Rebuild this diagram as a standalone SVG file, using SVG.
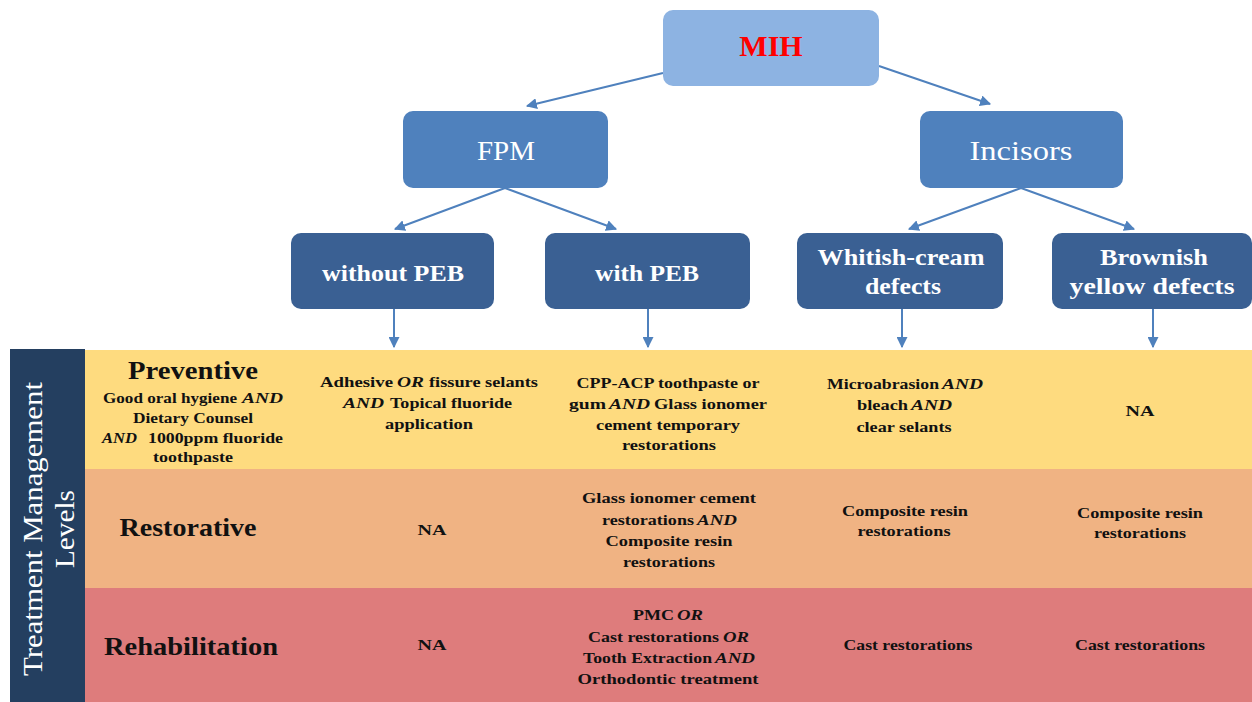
<svg xmlns="http://www.w3.org/2000/svg" width="1252" height="702" viewBox="0 0 1252 702">
<style>
.bx1{fill:#8DB3E2}
.bx2{fill:#4F81BD}
.bx3{fill:#3A6093}
.t1{font-family:"Liberation Serif",serif;font-weight:bold;font-size:30px;fill:#FF0000;text-anchor:middle}
.t2{font-family:"Liberation Serif",serif;font-size:27px;fill:#FFFFFF;text-anchor:middle}
.t3{font-family:"Liberation Serif",serif;font-weight:bold;font-size:23px;fill:#FFFFFF;text-anchor:middle}
.conn{stroke:#4F81BD;stroke-width:2;fill:none}
.hd{font-family:"Liberation Serif",serif;font-weight:bold;font-size:25px;fill:#111;text-anchor:middle}
.c{font-family:"Liberation Serif",serif;font-weight:bold;font-size:15.5px;fill:#111;text-anchor:middle}
.s{font-family:"Liberation Serif",serif;font-weight:bold;font-size:15.5px;fill:#111;text-anchor:start}
.i{font-style:italic}
.vt{font-family:"Liberation Serif",serif;font-size:28px;fill:#FFFFFF;text-anchor:middle}
</style>
<defs>
<marker id="ah" viewBox="0 0 10 10" refX="9" refY="5" markerWidth="5.5" markerHeight="5.5" orient="auto" markerUnits="strokeWidth">
<path d="M0,0 L10,5 L0,10 z" fill="#4F81BD"/>
</marker>
</defs>
<rect width="1252" height="702" fill="#FFFFFF"/>
<g id="connectors">
<line class="conn" x1="663" y1="73" x2="527" y2="106" marker-end="url(#ah)"/>
<line class="conn" x1="879" y1="66" x2="990" y2="104" marker-end="url(#ah)"/>
<line class="conn" x1="505" y1="188" x2="395" y2="229" marker-end="url(#ah)"/>
<line class="conn" x1="505" y1="188" x2="616" y2="229" marker-end="url(#ah)"/>
<line class="conn" x1="1021" y1="188" x2="909" y2="229" marker-end="url(#ah)"/>
<line class="conn" x1="1021" y1="188" x2="1134" y2="229" marker-end="url(#ah)"/>
<line class="conn" x1="394" y1="309" x2="394" y2="347" marker-end="url(#ah)"/>
<line class="conn" x1="648" y1="309" x2="648" y2="347" marker-end="url(#ah)"/>
<line class="conn" x1="902" y1="309" x2="902" y2="347" marker-end="url(#ah)"/>
<line class="conn" x1="1153" y1="309" x2="1153" y2="347" marker-end="url(#ah)"/>
</g>
<g id="mih">
<rect class="bx1" x="663" y="10" width="216" height="76" rx="10"/>
<text class="t1" x="771" y="56">MIH</text>
</g>
<g id="fpm">
<rect class="bx2" x="403" y="111" width="205" height="77" rx="10"/>
<text class="t2" x="506" y="160" textLength="58" lengthAdjust="spacingAndGlyphs">FPM</text>
</g>
<g id="incisors">
<rect class="bx2" x="920" y="111" width="203" height="77" rx="10"/>
<text class="t2" x="1021" y="160" textLength="103" lengthAdjust="spacingAndGlyphs">Incisors</text>
</g>
<g id="without-peb">
<rect class="bx3" x="291" y="233" width="203" height="76" rx="10"/>
<text class="t3" x="393" y="281" textLength="142" lengthAdjust="spacingAndGlyphs">without PEB</text>
</g>
<g id="with-peb">
<rect class="bx3" x="545" y="233" width="205" height="76" rx="10"/>
<text class="t3" x="647" y="281" textLength="104" lengthAdjust="spacingAndGlyphs">with PEB</text>
</g>
<g id="whitish">
<rect class="bx3" x="797" y="233" width="206" height="76" rx="10"/>
<text class="t3" x="901" y="265" textLength="167" lengthAdjust="spacingAndGlyphs">Whitish-cream</text>
<text class="t3" x="903" y="294" textLength="76" lengthAdjust="spacingAndGlyphs">defects</text>
</g>
<g id="brownish">
<rect class="bx3" x="1052" y="233" width="200" height="76" rx="10"/>
<text class="t3" x="1154" y="265" textLength="108" lengthAdjust="spacingAndGlyphs">Brownish</text>
<text class="t3" x="1152" y="294" textLength="165" lengthAdjust="spacingAndGlyphs">yellow defects</text>
</g>
<g id="table">
<rect x="85" y="350" width="1167" height="119" fill="#FEDB7F"/>
<rect x="85" y="469" width="1167" height="119" fill="#F0B383"/>
<rect x="85" y="588" width="1167" height="114" fill="#DE7C7C"/>
</g>
<g id="levels-label">
<rect x="10" y="349" width="75" height="353" fill="#243F60"/>
<text class="vt" transform="translate(42,529) rotate(-90)" textLength="294" lengthAdjust="spacingAndGlyphs">Treatment Management</text>
<text class="vt" transform="translate(74,529) rotate(-90)" textLength="78" lengthAdjust="spacingAndGlyphs">Levels</text>
</g>
<g id="preventive">
<text class="hd" x="193" y="379" textLength="130" lengthAdjust="spacingAndGlyphs">Preventive</text>
<text class="s" x="103" y="403" textLength="134" lengthAdjust="spacingAndGlyphs">Good oral hygiene</text>
<text class="s i" x="242" y="403" textLength="41" lengthAdjust="spacingAndGlyphs">AND</text>
<text class="c" x="193" y="423" textLength="120" lengthAdjust="spacingAndGlyphs">Dietary Counsel</text>
<text class="s i" x="102" y="443" textLength="35" lengthAdjust="spacingAndGlyphs">AND</text>
<text class="s" x="148" y="443" textLength="135" lengthAdjust="spacingAndGlyphs">1000ppm fluoride</text>
<text class="c" x="193" y="462" textLength="80" lengthAdjust="spacingAndGlyphs">toothpaste</text>
</g>
<g id="restorative">
<text class="hd" x="188" y="536" textLength="137" lengthAdjust="spacingAndGlyphs">Restorative</text>
</g>
<g id="rehabilitation">
<text class="hd" x="191" y="655" textLength="174" lengthAdjust="spacingAndGlyphs">Rehabilitation</text>
</g>
<g id="cell-prev-1">
<text class="s" x="320" y="387" textLength="73" lengthAdjust="spacingAndGlyphs">Adhesive</text>
<text class="s i" x="397" y="387" textLength="27" lengthAdjust="spacingAndGlyphs">OR</text>
<text class="s" x="429" y="387" textLength="109" lengthAdjust="spacingAndGlyphs">fissure selants</text>
<text class="s i" x="343" y="408" textLength="41" lengthAdjust="spacingAndGlyphs">AND</text>
<text class="s" x="390" y="408" textLength="122" lengthAdjust="spacingAndGlyphs">Topical fluoride</text>
<text class="c" x="429" y="429" textLength="88" lengthAdjust="spacingAndGlyphs">application</text>
</g>
<g id="cell-prev-2">
<text class="c" x="668" y="388" textLength="183" lengthAdjust="spacingAndGlyphs">CPP-ACP toothpaste or</text>
<text class="s" x="569" y="409" textLength="37" lengthAdjust="spacingAndGlyphs">gum</text>
<text class="s i" x="609" y="409" textLength="41" lengthAdjust="spacingAndGlyphs">AND</text>
<text class="s" x="654" y="409" textLength="113" lengthAdjust="spacingAndGlyphs">Glass  ionomer</text>
<text class="c" x="668" y="430" textLength="144" lengthAdjust="spacingAndGlyphs">cement temporary</text>
<text class="c" x="669" y="450" textLength="94" lengthAdjust="spacingAndGlyphs">restorations</text>
</g>
<g id="cell-prev-3">
<text class="s" x="827" y="389" textLength="112" lengthAdjust="spacingAndGlyphs">Microabrasion</text>
<text class="s i" x="942" y="389" textLength="41" lengthAdjust="spacingAndGlyphs">AND</text>
<text class="s" x="857" y="410" textLength="51" lengthAdjust="spacingAndGlyphs">bleach</text>
<text class="s i" x="911" y="410" textLength="41" lengthAdjust="spacingAndGlyphs">AND</text>
<text class="c" x="904" y="432" textLength="95" lengthAdjust="spacingAndGlyphs">clear selants</text>
</g>
<g id="cell-prev-4">
<text class="c" x="1140" y="416" textLength="29" lengthAdjust="spacingAndGlyphs">NA</text>
</g>
<g id="cell-rest-1">
<text class="c" x="432" y="535" textLength="29" lengthAdjust="spacingAndGlyphs">NA</text>
</g>
<g id="cell-rest-2">
<text class="c" x="669" y="503" textLength="174" lengthAdjust="spacingAndGlyphs">Glass ionomer cement</text>
<text class="s" x="602" y="525" textLength="92" lengthAdjust="spacingAndGlyphs">restorations</text>
<text class="s i" x="697" y="525" textLength="40" lengthAdjust="spacingAndGlyphs">AND</text>
<text class="c" x="669" y="546" textLength="127" lengthAdjust="spacingAndGlyphs">Composite resin</text>
<text class="c" x="669" y="567" textLength="92" lengthAdjust="spacingAndGlyphs">restorations</text>
</g>
<g id="cell-rest-3">
<text class="c" x="905" y="516" textLength="126" lengthAdjust="spacingAndGlyphs">Composite resin</text>
<text class="c" x="904" y="536" textLength="93" lengthAdjust="spacingAndGlyphs">restorations</text>
</g>
<g id="cell-rest-4">
<text class="c" x="1140" y="518" textLength="126" lengthAdjust="spacingAndGlyphs">Composite resin</text>
<text class="c" x="1140" y="538" textLength="92" lengthAdjust="spacingAndGlyphs">restorations</text>
</g>
<g id="cell-rehab-1">
<text class="c" x="432" y="650" textLength="29" lengthAdjust="spacingAndGlyphs">NA</text>
</g>
<g id="cell-rehab-2">
<text class="s" x="633" y="620" textLength="41" lengthAdjust="spacingAndGlyphs">PMC</text>
<text class="s i" x="677" y="620" textLength="26" lengthAdjust="spacingAndGlyphs">OR</text>
<text class="s" x="588" y="642" textLength="131" lengthAdjust="spacingAndGlyphs">Cast restorations</text>
<text class="s i" x="723" y="642" textLength="26" lengthAdjust="spacingAndGlyphs">OR</text>
<text class="s" x="583" y="663" textLength="129" lengthAdjust="spacingAndGlyphs">Tooth Extraction</text>
<text class="s i" x="715" y="663" textLength="40" lengthAdjust="spacingAndGlyphs">AND</text>
<text class="c" x="668" y="684" textLength="181" lengthAdjust="spacingAndGlyphs">Orthodontic  treatment</text>
</g>
<g id="cell-rehab-3">
<text class="c" x="908" y="650" textLength="129" lengthAdjust="spacingAndGlyphs">Cast restorations</text>
</g>
<g id="cell-rehab-4">
<text class="c" x="1140" y="650" textLength="130" lengthAdjust="spacingAndGlyphs">Cast restorations</text>
</g>
</svg>
